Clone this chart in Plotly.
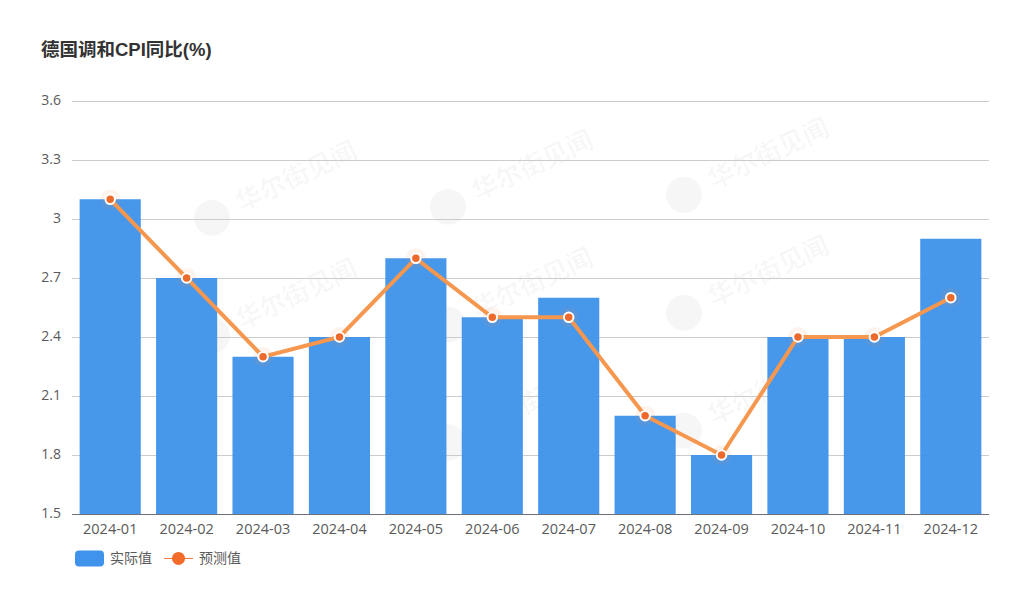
import plotly.graph_objects as go

months = ["2024-01", "2024-02", "2024-03", "2024-04", "2024-05", "2024-06",
          "2024-07", "2024-08", "2024-09", "2024-10", "2024-11", "2024-12"]
actual = [3.1, 2.7, 2.3, 2.4, 2.8, 2.5, 2.6, 2.0, 1.8, 2.4, 2.4, 2.9]
forecast = [3.1, 2.7, 2.3, 2.4, 2.8, 2.5, 2.5, 2.0, 1.8, 2.4, 2.4, 2.6]
y_ticks = [1.5, 1.8, 2.1, 2.4, 2.7, 3, 3.3, 3.6]
y_labels = ["1.5", "1.8", "2.1", "2.4", "2.7", "3", "3.3", "3.6"]
# centres of the watermark logos, the text sits up and right of each
watermarks = [(212, 218), (448, 207), (684, 195), (212, 336), (448, 325), (684, 313), (448, 443), (684, 431)]

W, H = 1024, 590
# plot area runs 2px above the 3.6 line, plotly drops gridlines right at the axis end
L, R, T, B = 72, 989, 99, 514.5
FONT = "Open Sans, Noto Sans CJK SC"
TEXT = "#5a5a5a"
WM = "rgba(0,0,0,0.035)"


# pixel position on the page -> paper coordinates of the plot area
def px_x(x):
    return (x - L) / (R - L)


def px_y(y):
    return (B - y) / (B - T)


def rounded_rect(x0, x1, y_bottom, y_top, r):
    a, b, c, d = px_x(x0), px_x(x1), px_y(y_bottom), px_y(y_top)
    rx, ry = r / (R - L), r / (B - T)
    return (f"M{a + rx},{c} L{b - rx},{c} Q{b},{c} {b},{c + ry} L{b},{d - ry} Q{b},{d} {b - rx},{d} "
            f"L{a + rx},{d} Q{a},{d} {a},{d - ry} L{a},{c + ry} Q{a},{c} {a + rx},{c} Z")


fig = go.Figure()
fig.add_trace(go.Bar(x=months, y=actual, name="实际值", marker=dict(color="#3f93ea", opacity=0.96, line_width=0),
                     showlegend=False))
# soft glow behind the points
fig.add_trace(go.Scatter(x=months, y=forecast, mode="markers", hoverinfo="skip", showlegend=False,
                         marker=dict(color="rgba(245,150,80,0.10)", size=20, line_width=0)))
fig.add_trace(go.Scatter(x=months, y=forecast, name="预测值", mode="lines+markers",
                         line=dict(color="#f5974e", width=4),
                         marker=dict(color="#ee6a2c", size=9.5, line=dict(color="white", width=2)),
                         showlegend=False))

annotations = [
    dict(text="<b>德国调和CPI同比(%)</b>", x=px_x(39), y=px_y(49), xref="paper", yref="paper", xanchor="left",
         yanchor="middle", showarrow=False,
         font=dict(size=18.5, color="#333333", family="Liberation Sans, Noto Sans CJK SC")),
    dict(text="实际值", x=px_x(108), y=px_y(558.5), xref="paper", yref="paper", xanchor="left", yanchor="middle",
         showarrow=False, font=dict(size=14, color=TEXT, family=FONT)),
    dict(text="预测值", x=px_x(197), y=px_y(558.5), xref="paper", yref="paper", xanchor="left", yanchor="middle",
         showarrow=False, font=dict(size=14, color=TEXT, family=FONT)),
]
shapes = [
    # legend swatches
    dict(type="path", xref="paper", yref="paper", path=rounded_rect(75, 104, 567, 551, 4),
         fillcolor="#3f93ea", line_width=0),
    dict(type="line", xref="paper", yref="paper", x0=px_x(164), x1=px_x(193), y0=px_y(559), y1=px_y(559),
         line=dict(color="#f0733a", width=1)),
    dict(type="circle", xref="paper", yref="paper", x0=px_x(172), x1=px_x(185), y0=px_y(565.5), y1=px_y(552.5),
         fillcolor="#f26b2a", line_width=0),
]
for cx, cy in watermarks:
    # shape label rather than annotation so the text stays under the bars
    shapes.append(dict(type="rect", xref="paper", yref="paper", x0=px_x(cx + 25), x1=px_x(cx + 145),
                       y0=px_y(cy - 10), y1=px_y(cy - 70), line_width=0, fillcolor="rgba(0,0,0,0)", layer="below",
                       label=dict(text="<b>华尔街见闻</b>", textangle=-25, textposition="middle center",
                                  font=dict(size=26, color=WM, family="Noto Sans CJK SC"))))
    shapes.append(dict(type="circle", xref="paper", yref="paper", x0=px_x(cx - 18), x1=px_x(cx + 18),
                       y0=px_y(cy + 18), y1=px_y(cy - 18), fillcolor=WM, line_width=0, layer="below"))

fig.update_layout(
    width=W, height=H, margin=dict(l=L, r=W - R, t=T, b=H - B),
    paper_bgcolor="white", plot_bgcolor="white", bargap=0.2,
    font=dict(family=FONT, color=TEXT, size=14),
    annotations=annotations, shapes=shapes,
    xaxis=dict(type="category", range=[-0.5, 11.5], showgrid=False, ticks="", showline=True, linecolor="#6e7079",
               linewidth=1, tickfont=dict(size=14.5, color=TEXT), ticklabelstandoff=2),
    yaxis=dict(range=[1.5, 3.6102], tickvals=y_ticks, ticktext=y_labels, showgrid=True, gridcolor="#cccccc",
               gridwidth=1, zeroline=False, ticks="", ticklabelstandoff=10, ticklabelshift=-1,
               tickfont=dict(size=14, color=TEXT)),
)
fig.write_html("out.html", config=dict(displayModeBar=False), post_script="document.body.style.margin='0';")
